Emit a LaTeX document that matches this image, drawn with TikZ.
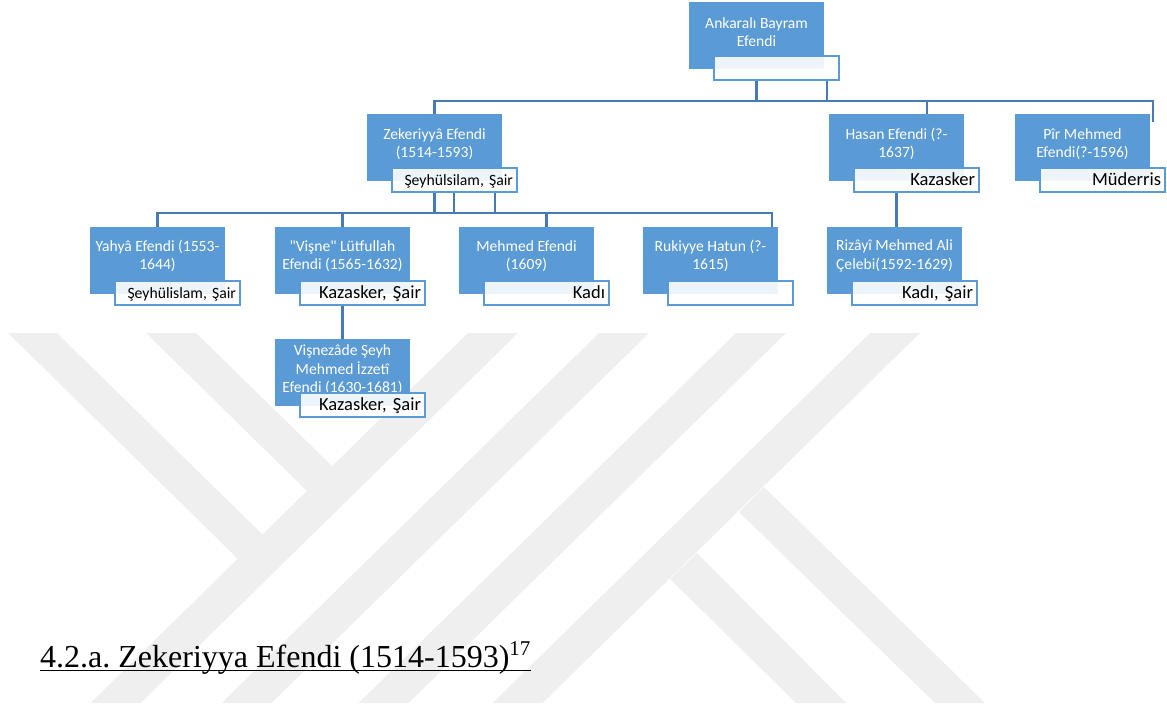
\documentclass[tikz,border=0pt]{standalone}
\usepackage{fontspec}
\setmainfont{Liberation Serif}
\newfontfamily\calibri{Carlito}
\usetikzlibrary{backgrounds}
\definecolor{boxblue}{HTML}{5B9BD5}
\definecolor{linkblue}{HTML}{477AB5}
\definecolor{wmgray}{HTML}{EFEFEF}
\tikzset{
  every picture/.style={x=1pt, y=-1pt}}

\begin{document}
\begin{tikzpicture}
    \tikzstyle{member}=[fill=boxblue, minimum width=135pt, minimum height=67pt, inner sep=0pt]
    \tikzstyle{membername}=[text=white, align=center, inner sep=0pt,
      font={\calibri\fontsize{15.6}{18.5}\selectfont}]
    \tikzstyle{duty}=[draw=boxblue, line width=2.2pt, fill=white, fill opacity=0.9, text opacity=1,
      minimum width=125pt, minimum height=24pt, inner xsep=4pt, inner ysep=0pt, text width=117pt,
      align=right, text height=13pt, text depth=3pt, font={\calibri\fontsize{18.5}{20}\selectfont}]
    \tikzstyle{smallduty}=[font={\calibri\fontsize{15.7}{18}\selectfont}]
    \tikzstyle{link}=[draw=linkblue, line width=2.4pt]

    \useasboundingbox (0,0) rectangle (1167,709);

    \node[member] (AB) at (756.5, 35.5) {};
    \node[member] (Z)  at (434.5, 147.5) {};
    \node[member] (H)  at (896.5, 147.5) {};
    \node[member] (P)  at (1082.5,147.5) {};
    \node[member] (Y)  at (157.5, 260.5) {};
    \node[member] (V)  at (342.5, 260.5) {};
    \node[member] (M)  at (526.5, 260.5) {};
    \node[member] (R)  at (710.5, 260.5) {};
    \node[member] (RZ) at (894.5, 260.5) {};
    \node[member] (VZ) at (342.5, 372.5) {};

    \node[membername] (ABn) at (756.5, 32)   {Ankaralı Bayram\\Efendi};
    \node[membername] (Zn)  at (434.5, 144)  {Zekeriyyâ Efendi\\(1514-1593)};
    \node[membername] (Hn)  at (896.5, 144)  {Hasan Efendi (?-\\1637)};
    \node[membername] (Pn)  at (1082.5,144)  {Pîr Mehmed\\Efendi(?-1596)};
    \node[membername] (Yn)  at (157.5, 256)  {Yahyâ Efendi (1553-\\1644)};
    \node[membername] (Vn)  at (342.5, 256)  {\textquotedbl Vişne\textquotedbl{} Lütfullah\\Efendi (1565-1632)};
    \node[membername] (Mn)  at (526.5, 256)  {Mehmed Efendi\\(1609)};
    \node[membername] (Rn)  at (710.5, 256)  {Rukiyye Hatun (?-\\1615)};
    \node[membername] (RZn) at (894.5, 256)  {Rizâyî Mehmed Ali\\Çelebi(1592-1629)};
    \node[membername] (VZn) at (342.5, 370)  {Vişnezâde Şeyh\\Mehmed İzzetî\\Efendi (1630-1681)};

    \node[duty] (ABr) at (776.5, 68)  {};
    \node[duty, smallduty] (Zr) at (454.5, 180) {Şeyhülsilam, Şair};
    \node[duty] (Hr)  at (916.5, 180)  {Kazasker};
    \node[duty] (Pr)  at (1102.5,180)  {Müderris};
    \node[duty, smallduty] (Yr) at (177.5, 293) {Şeyhülislam, Şair};
    \node[duty] (Vr)  at (362.5, 293)  {Kazasker, Şair};
    \node[duty] (Mr)  at (546.5, 293)  {Kadı};
    \node[duty] (Rr)  at (730.5, 293)  {};
    \node[duty] (RZr) at (914.5, 293)  {Kadı, Şair};
    \node[duty] (VZr) at (362.5, 405)  {Kazasker, Şair};

    \coordinate (bar1)  at (0,101);
    \coordinate (bar2)  at (0,213);
    \coordinate (tap)   at (827,80);
    \coordinate (hdrop) at (927,101);
    \coordinate (pdrop) at (1153,122);
    \coordinate (zdrop1) at (454,192);
    \coordinate (zdrop2) at (495,192);
    \coordinate (rdrop) at (772,227);

    \begin{scope}[on background layer]
      \foreach \t in {468,599,736,870}
        \fill[wmgray] (\t,333) -- ++(50,0) -- ++(-377.4,370) -- ++(-50,0) -- cycle;
      \fill[wmgray] (8,333) -- (57,333) -- (263,535) -- (238,559) -- cycle;
      \fill[wmgray] (146,333) -- (196,333) -- (332,466) -- (307,491) -- cycle;
      \fill[wmgray] (764,487) -- (985,703) -- (935,703) -- (739,512) -- cycle;
      \fill[wmgray] (697,553) -- (846,703) -- (796,703) -- (670,579) -- cycle;

      \draw[link] (AB.center |- ABr.south) -- (AB.center |- bar1);
      \draw[link] (tap) -- (tap |- bar1);
      \draw[link] (Z.north) |- (pdrop |- bar1) -- (pdrop);
      \draw[link] (hdrop) -- (hdrop |- H.north);
      \draw[link] (Z.center |- Zr.south) -- (Z.center |- bar2);
      \draw[link] (zdrop1) -- (zdrop1 |- bar2);
      \draw[link] (zdrop2) -- (zdrop2 |- bar2);
      \draw[link] (Y.north) |- (rdrop |- bar2) -- (rdrop);
      \draw[link] (V.north) -- (V.north |- bar2);
      \draw[link] (Mr.center |- bar2) -- (Mr.center |- M.north);
      \draw[link] (V.center |- Vr.south) -- (VZ.north);
      \draw[link] (H.center |- Hr.south) -- (H.center |- RZ.north);
    \end{scope}

    \node[anchor=base west, inner sep=0pt, font=\fontsize{32}{38}\selectfont\frenchspacing] (T) at (40,667)
      {4.2.a. Zekeriyya Efendi (1514-1593)\raisebox{12pt}{\fontsize{21}{21}\selectfont 17}};
    \draw[line width=1.6pt] ([yshift=-3.5pt]T.base west) -- ([yshift=-3.5pt]T.base east);
\end{tikzpicture}
\end{document}
